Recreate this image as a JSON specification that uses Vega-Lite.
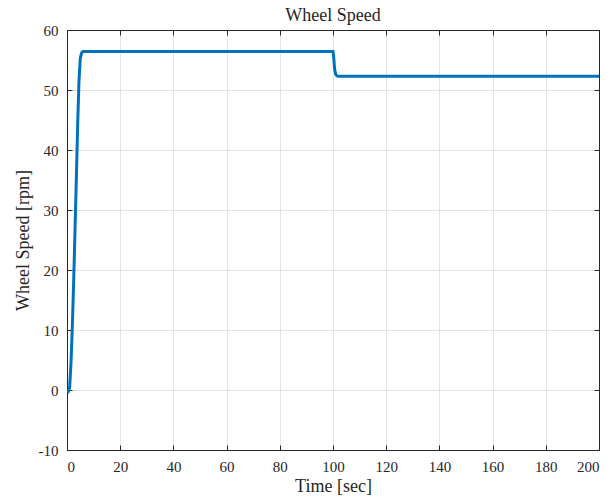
{
  "$schema": "https://vega.github.io/schema/vega-lite/v6.json",
  "width": 532,
  "height": 420,
  "autosize": {"type": "none"},
  "padding": {"left": 67, "top": 30, "right": 14, "bottom": 51},
  "background": "white",
  "config": {
    "font": "Liberation Serif",
    "style": {
      "guide-label": {"font": "Liberation Serif", "fontSize": 15, "fill": "#262626"},
      "guide-title": {"font": "Liberation Serif", "fontSize": 18, "fontWeight": "normal", "fill": "#262626"}
    },
    "view": {"stroke": "#262626", "strokeWidth": 1},
    "axis": {
      "labelFont": "Liberation Serif",
      "titleFont": "Liberation Serif",
      "labelFontSize": 15,
      "titleFontSize": 18,
      "titleFontWeight": "normal",
      "labelColor": "#262626",
      "titleColor": "#262626",
      "domainColor": "#262626",
      "tickColor": "#262626",
      "gridColor": "#e3e3e3",
      "tickSize": -5
    },
    "title": {"font": "Liberation Serif", "fontSize": 18, "fontWeight": "normal", "color": "#262626"}
  },
  "title": {"text": "Wheel Speed", "offset": -2},
  "data": {
    "values": [
      {"t": 0, "v": -0.5},
      {"t": 0.5, "v": -0.3},
      {"t": 1, "v": 0.5},
      {"t": 1.5, "v": 4.5},
      {"t": 2, "v": 10.5},
      {"t": 2.5, "v": 18},
      {"t": 3, "v": 26.5},
      {"t": 3.5, "v": 35},
      {"t": 4, "v": 44},
      {"t": 4.5, "v": 51.5},
      {"t": 5, "v": 55.3},
      {"t": 5.5, "v": 56.2},
      {"t": 6, "v": 56.4},
      {"t": 100, "v": 56.4},
      {"t": 100.3, "v": 55.3},
      {"t": 100.6, "v": 53.5},
      {"t": 101, "v": 52.6},
      {"t": 101.5, "v": 52.35},
      {"t": 102, "v": 52.3},
      {"t": 200, "v": 52.3}
    ]
  },
  "layer": [
    {
      "mark": {"type": "line", "color": "#0072BD", "strokeWidth": 3, "clip": true},
      "encoding": {
        "x": {"field": "t", "type": "quantitative", "scale": {"domain": [0, 200], "nice": false},
          "axis": {"title": "Time [sec]", "labelFont": "Liberation Serif", "titleFont": "Liberation Serif", "values": [0,20,40,60,80,100,120,140,160,180,200], "labelPadding": 14, "titlePadding": 3}},
        "y": {"field": "v", "type": "quantitative", "scale": {"domain": [-10, 60], "nice": false},
          "axis": {"title": "Wheel Speed [rpm]", "labelFont": "Liberation Serif", "titleFont": "Liberation Serif", "values": [-10,0,10,20,30,40,50,60], "labelExpr": "'' + datum.value", "labelPadding": 14, "titlePadding": 6}}
      }
    },
    {
      "mark": {"type": "line", "opacity": 0},
      "encoding": {
        "x": {"field": "t", "type": "quantitative", "scale": {"domain": [0, 200], "nice": false},
          "axis": {"orient": "top", "title": null, "labels": false, "grid": false, "values": [0,20,40,60,80,100,120,140,160,180,200]}},
        "y": {"field": "v", "type": "quantitative", "scale": {"domain": [-10, 60], "nice": false},
          "axis": {"orient": "right", "title": null, "labels": false, "grid": false, "values": [-10,0,10,20,30,40,50,60]}}
      }
    }
  ],
  "resolve": {"axis": {"x": "independent", "y": "independent"}}
}
